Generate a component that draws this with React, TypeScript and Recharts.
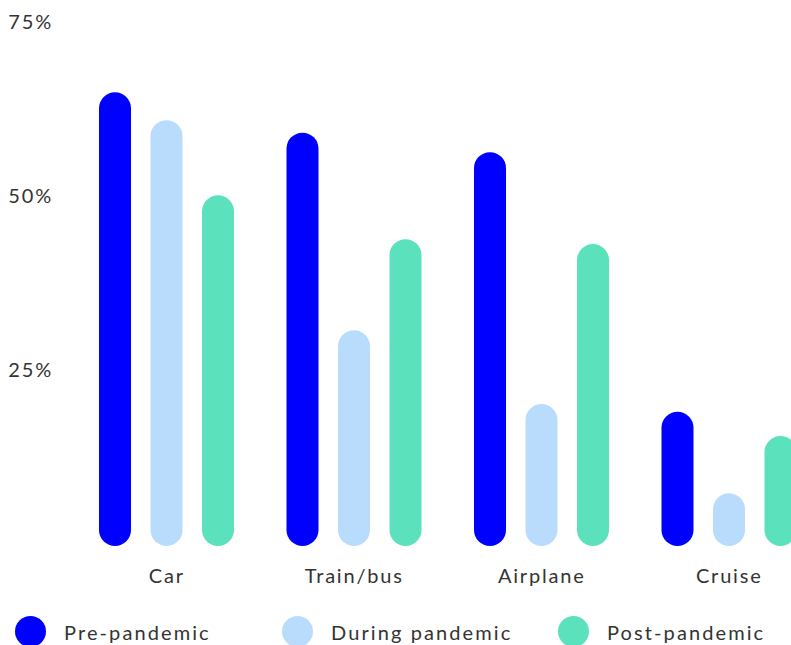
import { BarChart, Bar, XAxis, YAxis } from "recharts"

const categories = ["Car", "Train/bus", "Airplane", "Cruise"]
const prePandemic = [64.9, 59.1, 56.3, 19.0]
const duringPandemic = [60.9, 30.7, 20.1, 7.3]
const postPandemic = [50.1, 43.8, 43.1, 15.5]
const yTicks = [25, 50, 75]

const series = [
  { key: "pre", name: "Pre-pandemic", color: "#0000ff" },
  { key: "during", name: "During pandemic", color: "#b9dcfd" },
  { key: "post", name: "Post-pandemic", color: "#5ce1bd" },
]

const data = categories.map((name, i) => ({
  name,
  pre: prePandemic[i],
  during: duringPandemic[i],
  post: postPandemic[i],
}))

const font = "Lato, 'Noto Sans', sans-serif"
const textStyle = { fill: "#333", fontSize: 20, fontFamily: font, letterSpacing: 1.8 }

// pill shaped bar, a bit longer at the bottom like the original
const Pill = (props: any) => {
  const { x, y, width, height, fill } = props
  if (!height || height <= 0) return null
  return <rect x={x} y={y} width={width} height={height + 2} rx={width / 2} ry={width / 2} fill={fill} />
}

const itemWidths = [267, 276, 276]

function ChartLegend() {
  return (
    <div style={{ position: "absolute", top: 616, left: 15, display: "flex", fontFamily: font }}>
      {series.map((s, i) => (
        <div key={s.key} style={{ width: itemWidths[i], display: "flex", alignItems: "center" }}>
          <span
            style={{
              width: 31,
              height: 31,
              borderRadius: 16,
              background: s.color,
              display: "inline-block",
              marginRight: 18,
              flexShrink: 0,
            }}
          />
          <span style={{ fontSize: 20, letterSpacing: 2.1, color: "#333", marginTop: 0 }}>{s.name}</span>
        </div>
      ))}
    </div>
  )
}

export default function App() {
  return (
    <div
      style={{
        position: "fixed",
        top: 0,
        left: 0,
        width: 791,
        height: 645,
        overflow: "hidden",
        background: "#fff",
      }}
    >
      <BarChart
        width={835}
        height={645}
        data={data}
        barSize={32}
        barGap={19.5}
        margin={{ top: 22, right: 12, bottom: 71, left: 10 }}
      >
        <XAxis
          dataKey="name"
          axisLine={false}
          tickLine={false}
          tickSize={0}
          tickMargin={25}
          tick={textStyle}
        />
        <YAxis
          width={63}
          domain={[0, 75]}
          ticks={yTicks}
          axisLine={false}
          tickLine={false}
          tickSize={0}
          tickMargin={20}
          tickFormatter={(v) => `${v}%`}
          tick={textStyle}
        />
        {series.map((s) => (
          <Bar
            key={s.key}
            dataKey={s.key}
            name={s.name}
            fill={s.color}
            shape={<Pill />}
            isAnimationActive={false}
          />
        ))}
      </BarChart>
      <ChartLegend />
    </div>
  )
}
